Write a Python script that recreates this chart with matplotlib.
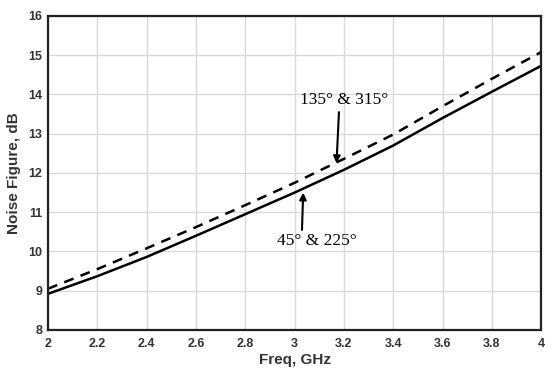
import matplotlib.pyplot as plt

freq = [2.0, 2.2, 2.4, 2.6, 2.8, 3.0, 3.2, 3.4, 3.6, 3.8, 4.0]
nf_45 = [8.92, 9.37, 9.86, 10.40, 10.95, 11.50, 12.08, 12.70, 13.40, 14.07, 14.73]
nf_135 = [9.05, 9.55, 10.08, 10.62, 11.18, 11.75, 12.36, 12.98, 13.70, 14.40, 15.08]

x_ticks = [2, 2.2, 2.4, 2.6, 2.8, 3, 3.2, 3.4, 3.6, 3.8, 4]
x_tick_labels = ['2', '2.2', '2.4', '2.6', '2.8', '3', '3.2', '3.4', '3.6', '3.8', '4']
y_ticks = [8, 9, 10, 11, 12, 13, 14, 15, 16]


def plot_noise_figure():
    fig = plt.figure(figsize=(5.45, 3.72), dpi=100)
    ax = fig.add_axes([0.088, 0.113, 0.905, 0.844])

    ax.plot(freq, nf_45, color='black', lw=1.8)
    ax.plot(freq, nf_135, color='black', lw=1.8, linestyle=(0, (4, 3)))

    ax.set_xlim(2, 4)
    ax.set_ylim(8, 16)
    ax.set_xticks(x_ticks)
    ax.set_xticklabels(x_tick_labels)
    ax.set_yticks(y_ticks)
    ax.grid(True, color='#d9d9d9', lw=1.0)
    ax.set_axisbelow(True)
    for s in ax.spines.values():
        s.set_linewidth(1.6)
        s.set_color('#222222')

    bold = dict(family='Liberation Sans', weight='bold', color='#333333')
    ax.tick_params(length=0, labelsize=9)
    ax.tick_params(axis='x', pad=6)
    ax.tick_params(axis='y', pad=4)
    for lab in ax.get_xticklabels() + ax.get_yticklabels():
        lab.set_fontfamily('Liberation Sans')
        lab.set_fontweight('bold')
        lab.set_color('#333333')
    ax.set_xlabel('Freq, GHz', fontsize=11, labelpad=2, **bold)
    ax.set_ylabel('Noise Figure, dB', fontsize=11, labelpad=5, **bold)

    serif = dict(family='Liberation Serif', fontsize=12.5, color='black')
    arrow = dict(arrowstyle='-|>', color='black', lw=1.5,
                 shrinkA=0, shrinkB=0, mutation_scale=10)
    ax.text(3.20, 13.86, '135° & 315°', ha='center', va='center', **serif)
    ax.annotate('', xy=(3.17, 12.25), xytext=(3.18, 13.55), arrowprops=arrow)
    ax.text(3.09, 10.27, '45° & 225°', ha='center', va='center', **serif)
    ax.annotate('', xy=(3.035, 11.5), xytext=(3.03, 10.55), arrowprops=arrow)

    fig.savefig('out.png', dpi=100)


if __name__ == "__main__":
    plot_noise_figure()
